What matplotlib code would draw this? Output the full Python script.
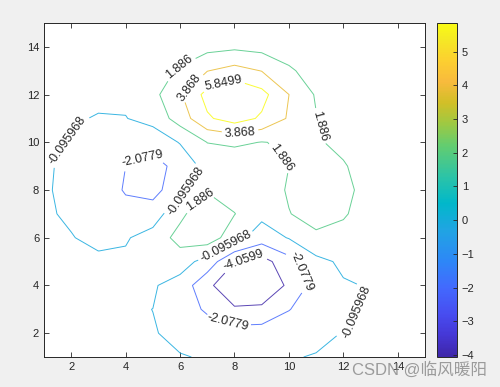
import matplotlib
matplotlib.use("Agg")
import matplotlib.pyplot as plt
import numpy as np
from matplotlib.colors import LinearSegmentedColormap, Normalize
from matplotlib.cm import ScalarMappable

# surface heights on a 15x15 grid (row = y index, column = x index)
z_rows = [
    [6.671e-05, 0.000508, 0.002332, 0.005222, -0.002933, -0.05325, -0.1563, -0.245, -0.2346, -0.143, -0.05612, -0.01408, -0.002194, -0.0001933, -5.864e-06],
    [0.0002629, 0.001986, 0.008703, 0.01544, -0.0405, -0.308, -0.8263, -1.257, -1.188, -0.7192, -0.2805, -0.06977, -0.01067, -0.0008899, -1.733e-05],
    [0.0006474, 0.005244, 0.02436, 0.04731, -0.1032, -0.8775, -2.432, -3.767, -3.591, -2.166, -0.8277, -0.1952, -0.02598, -0.001211, 0.0001662],
    [0.0005417, 0.00712, 0.04562, 0.1454, 0.09566, -0.9128, -3.472, -6.042, -6.038, -3.625, -1.283, -0.2346, -0.005095, 0.007174, 0.001646],
    [-0.002778, -0.009474, 0.0087, 0.208, 0.7341, 0.864, -0.9372, -3.985, -4.866, -2.781, -0.5602, 0.1944, 0.151, 0.04256, 0.006773],
    [-0.01303, -0.07241, -0.229, -0.2592, 0.6523, 2.587, 3.058, 0.6614, -1.097, 0.01367, 1.336, 1.154, 0.4739, 0.1131, 0.0168],
    [-0.02794, -0.1709, -0.6534, -1.397, -1.091, 1.421, 3.424, 1.942, 0.4035, 1.784, 2.986, 2.12, 0.8211, 0.1914, 0.02817],
    [-0.03651, -0.2309, -0.9336, -2.255, -2.78, -0.6991, 1.692, 0.981, 0.1984, 2.199, 3.592, 2.515, 0.9683, 0.2252, 0.03312],
    [-0.03141, -0.201, -0.8286, -2.076, -2.82, -1.399, 0.6104, 0.408, 0.1215, 1.882, 3.004, 2.085, 0.8001, 0.1859, 0.02732],
    [-0.01809, -0.1152, -0.4687, -1.133, -1.343, 0.01108, 1.921, 2.256, 1.824, 2.115, 2.141, 1.312, 0.4812, 0.1096, 0.01595],
    [-0.006545, -0.03851, -0.1301, -0.1518, 0.5604, 2.77, 5.591, 6.719, 5.583, 3.646, 1.973, 0.8323, 0.251, 0.05152, 0.007076],
    [-0.001077, -0.002658, 0.02435, 0.2734, 1.297, 3.628, 6.515, 7.832, 6.517, 3.875, 1.69, 0.5464, 0.1299, 0.02227, 0.002693],
    [0.0001733, 0.003624, 0.03584, 0.2152, 0.8375, 2.171, 3.809, 4.578, 3.81, 2.218, 0.9129, 0.2675, 0.05607, 0.008399, 0.0008953],
    [0.0001345, 0.001695, 0.01391, 0.07636, 0.2841, 0.7213, 1.257, 1.511, 1.257, 0.7276, 0.2941, 0.08331, 0.01659, 0.002328, 0.0002302],
    [3.224e-05, 0.0003722, 0.00291, 0.01554, 0.05694, 0.1435, 0.2495, 0.2999, 0.2496, 0.1441, 0.05786, 0.01618, 0.003157, 0.0004303, 4.103e-05],
]
levels = [-4.0599, -2.0779, -0.095968, 1.886, 3.868, 5.8499]
cbar_ticks = [-4, -3, -2, -1, 0, 1, 2, 3, 4, 5]
watermark = 'CSDN @临风暖阳'

# where the inline labels sit, per level (data coords)
label_pos = {
    -4.0599: [(8.39, 4.82)],
    -2.0779: [(4.71, 9.13), (10.3, 4.52), (7.76, 2.51)],
    -0.095968: [(1.96, 10.0), (6.18, 8.0), (7.71, 5.59), (12.39, 2.97)],
    1.886: [(6.03, 13.07), (11.14, 10.68), (9.67, 9.3), (6.84, 7.46)],
    3.868: [(6.44, 12.19), (8.2, 10.43)],
    5.8499: [(7.65, 12.32)],
}

# parula (MATLAB default), sampled
parula = [(0, (0.2422, 0.1504, 0.6603)), (4, (0.2706, 0.2147, 0.8364)),
          (8, (0.2813, 0.3006, 0.9414)), (13, (0.2602, 0.4123, 0.9952)),
          (18, (0.1786, 0.5289, 0.9682)), (24, (0.1248, 0.6459, 0.8883)),
          (29, (0.0036, 0.7203, 0.7917)), (34, (0.1717, 0.7670, 0.6554)),
          (40, (0.3909, 0.8029, 0.4354)), (44, (0.6174, 0.7876, 0.2612)),
          (48, (0.8203, 0.7498, 0.1535)), (52, (0.9728, 0.7298, 0.2394)),
          (56, (0.9892, 0.8136, 0.1885)), (60, (0.9597, 0.9135, 0.1423)),
          (63, (0.9769, 0.9839, 0.0805))]
cmap = LinearSegmentedColormap.from_list("parula", [(i / 63, c) for i, c in parula])
norm = Normalize(vmin=levels[0], vmax=levels[-1])

plt.rcParams['font.family'] = ['Liberation Sans', 'Noto Sans CJK SC', 'DejaVu Sans']

fig = plt.figure(figsize=(5, 3.87), dpi=100, facecolor='#f0f0f0')
ax = fig.add_axes([0.088, 0.0775, 0.762, 0.863])
cax = fig.add_axes([0.874, 0.0775, 0.04, 0.863])

Z = np.array(z_rows)
n = Z.shape[0]
grid = np.arange(1, n + 1)
# one contour set per level so each label lands on its own line
for lev in levels:
    cs = ax.contour(grid, grid, Z, levels=[lev], colors=[cmap(norm(lev))],
                    linewidths=0.7, linestyles='solid', alpha=0.85)
    ax.clabel(cs, manual=label_pos[lev], fmt=lambda x: '%.5g' % x, fontsize=9,
              colors='black', inline=True, inline_spacing=3)

ax.set_xlim(1, 15)
ax.set_ylim(1, 15)
ax.set_xticks(range(2, 15, 2))
ax.set_yticks(range(2, 15, 2))
ax.tick_params(direction='in', top=True, right=True, length=3.5, width=0.6,
               labelsize=8, colors='#262626')
for s in ax.spines.values():
    s.set_color('#262626')
    s.set_linewidth(0.7)

cb = fig.colorbar(ScalarMappable(norm=norm, cmap=cmap), cax=cax)
cb.set_ticks(cbar_ticks)
cax.tick_params(direction='in', length=3, width=0.6, labelsize=8, colors='#262626')
cb.outline.set_edgecolor('#262626')
cb.outline.set_linewidth(0.7)

fig.text(0.703, 0.045, watermark, fontsize=12, color='#8c8c8c', alpha=0.85,
         va='center', ha='left')

fig.savefig("out.png", facecolor=fig.get_facecolor())
